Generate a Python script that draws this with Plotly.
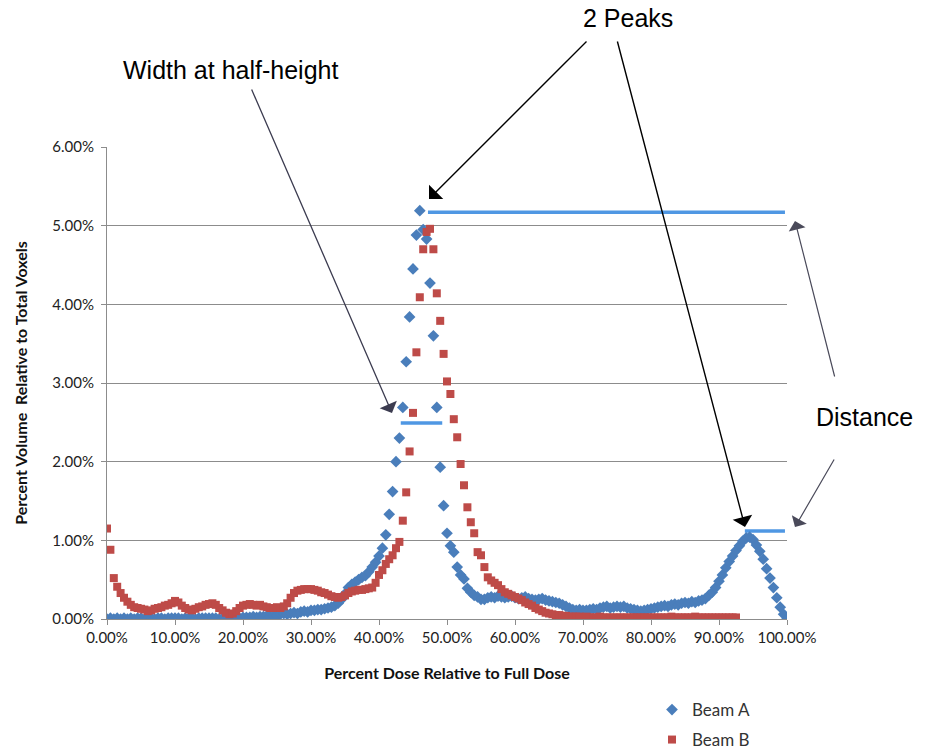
import plotly.graph_objects as go

# ---------------- data (percent units) ----------------
dose_a = [i * 0.5 for i in range(201)]          # 0 .. 100 % dose bins
beam_a = [
    0.00, 0.01, 0.00, 0.01, 0.00, 0.01, 0.00, 0.01, 0.00, 0.01, 0.01,
    0.00, 0.01, 0.01, 0.00, 0.01, 0.01, 0.00, 0.01, 0.01, 0.01,
    0.01, 0.00, 0.01, 0.01, 0.01, 0.00, 0.01, 0.01, 0.01, 0.01,
    0.01, 0.01, 0.00, 0.01, 0.01, 0.01, 0.02, 0.01, 0.01, 0.02,
    0.02, 0.02, 0.03, 0.02, 0.03, 0.03, 0.04, 0.03, 0.04, 0.04,
    0.06, 0.07, 0.06, 0.07, 0.08, 0.07, 0.09, 0.10, 0.09, 0.11,
    0.11, 0.12, 0.12, 0.13, 0.14, 0.15, 0.17, 0.20, 0.25, 0.32,
    0.40, 0.44, 0.47, 0.50, 0.53, 0.55, 0.60, 0.66, 0.72, 0.80,
    0.90, 1.07, 1.33, 1.62, 2.00, 2.30, 2.69, 3.27, 3.84, 4.45,
    4.88, 5.19, 4.95, 4.83, 4.27, 3.60, 2.69, 1.93, 1.44, 1.09,
    0.93, 0.85, 0.66, 0.56, 0.51, 0.39, 0.34, 0.30, 0.28, 0.25,
    0.25, 0.27, 0.28, 0.27, 0.29, 0.28, 0.27, 0.28, 0.29, 0.27,
    0.26, 0.27, 0.28, 0.26, 0.25, 0.24, 0.25, 0.26, 0.24, 0.23,
    0.22, 0.21, 0.20, 0.18, 0.16, 0.14, 0.12, 0.11, 0.12, 0.11,
    0.11, 0.12, 0.13, 0.12, 0.14, 0.15, 0.16, 0.14, 0.15, 0.16,
    0.15, 0.16, 0.14, 0.13, 0.12, 0.11, 0.10, 0.11, 0.12, 0.13,
    0.14, 0.15, 0.16, 0.17, 0.16, 0.18, 0.19, 0.18, 0.20, 0.21,
    0.20, 0.22, 0.21, 0.23, 0.24, 0.26, 0.30, 0.34, 0.40, 0.48,
    0.56, 0.65, 0.73, 0.80, 0.87, 0.93, 0.99, 1.03, 1.04, 1.01,
    0.94, 0.86, 0.76, 0.64, 0.52, 0.40, 0.27, 0.15, 0.06, 0.00,
]

beam_b = [
    1.15, 0.88, 0.52, 0.41, 0.33, 0.27, 0.22, 0.18, 0.15, 0.14, 0.13,
    0.12, 0.10, 0.11, 0.13, 0.14, 0.15, 0.17, 0.18, 0.20, 0.23,
    0.21, 0.17, 0.14, 0.12, 0.11, 0.13, 0.15, 0.16, 0.18, 0.19,
    0.20, 0.18, 0.14, 0.11, 0.08, 0.06, 0.07, 0.10, 0.14, 0.17,
    0.18, 0.19, 0.18, 0.17, 0.18, 0.16, 0.15, 0.14, 0.14, 0.15,
    0.14, 0.16, 0.20, 0.27, 0.33, 0.36, 0.37, 0.38, 0.38, 0.38,
    0.37, 0.36, 0.34, 0.33, 0.31, 0.29, 0.28, 0.27, 0.28, 0.30,
    0.33, 0.35, 0.36, 0.37, 0.37, 0.38, 0.39, 0.40, 0.46, 0.56,
    0.62, 0.70, 0.76, 0.81, 0.90, 0.98, 1.25, 1.61, 2.13, 2.62,
    3.39, 4.09, 4.70, 4.92, 4.96, 4.70, 4.14, 3.79, 3.37, 3.02,
    2.86, 2.54, 2.31, 1.97, 1.70, 1.42, 1.23, 1.09, 0.85, 0.81,
    0.66, 0.53, 0.49, 0.46, 0.43, 0.38, 0.34, 0.32, 0.30, 0.28,
    0.26, 0.24, 0.21, 0.19, 0.17, 0.14, 0.12, 0.10, 0.08, 0.07,
    0.06, 0.05, 0.05, 0.04, 0.04, 0.03, 0.03, 0.03, 0.03, 0.02,
    0.03, 0.02, 0.02, 0.02, 0.03, 0.02, 0.02, 0.02, 0.02, 0.02,
    0.02, 0.02, 0.02, 0.02, 0.02, 0.02, 0.02, 0.02, 0.02, 0.02,
    0.02, 0.02, 0.02, 0.02, 0.02, 0.03, 0.02, 0.02, 0.02, 0.02,
    0.02, 0.02, 0.03, 0.02, 0.02, 0.02, 0.02, 0.02, 0.02, 0.02,
    0.02, 0.02, 0.02, 0.02, 0.02,
]
dose_b = dose_a[:len(beam_b)]                    # 0 .. 92.5 % dose bins

# marker lines drawn on the chart (percent units)
peak_line_x = [47.2, 99.7]
peak_line_y = [5.17, 5.17]
half_line_x = [43.2, 49.3]
half_line_y = [2.49, 2.49]
peak2_line_x = [93.8, 99.7]
peak2_line_y = [1.12, 1.12]

x_ticks = [0, 10, 20, 30, 40, 50, 60, 70, 80, 90, 100]
y_ticks = [0, 1, 2, 3, 4, 5, 6]

# ---------------- layout geometry ----------------
W, H = 926, 749
L, R, T, B = 107, 139, 147, 130
PW, PH = W - L - R, H - T - B


def px(x):
    return (x - L) / PW


def py(y):
    return (H - B - y) / PH


BLUE = "#4A7EBB"
RED = "#BE4B48"
LINE_BLUE = "#4F97E3"
GRID = "#8C8C8C"

fig = go.Figure()

for lx, ly in [(peak_line_x, peak_line_y), (half_line_x, half_line_y),
               (peak2_line_x, peak2_line_y)]:
    fig.add_trace(go.Scatter(x=lx, y=ly, mode="lines",
                             line=dict(color=LINE_BLUE, width=3.5),
                             showlegend=False, hoverinfo="skip"))

fig.add_trace(go.Scatter(
    x=dose_a, y=beam_a, mode="markers", name="Beam A",
    marker=dict(symbol="diamond", size=9, color=BLUE, line=dict(width=0)),
    legend="legend"))
fig.add_trace(go.Scatter(
    x=dose_b, y=beam_b, mode="markers", name="Beam B",
    marker=dict(symbol="square", size=8, color=RED, line=dict(width=0)),
    legend="legend2"))

annotations = []
# text labels
for txt, x, y in [("2 Peaks", 628, 18), ("Width at half-height", 230, 70),
                  ("Distance", 864, 417)]:
    annotations.append(dict(
        text=txt, x=px(x), y=py(y), xref="paper", yref="paper",
        showarrow=False, xanchor="center", yanchor="middle",
        font=dict(family="Liberation Sans, Arial", size=25, color="#000000")))

# arrows: (tail_x, tail_y, tip_x, tip_y, color, width)
arrows = [
    (588, 40, 429, 199, "#000000", 1.4),
    (617, 40, 745, 527, "#000000", 1.4),
    (251, 88, 392, 413, "#3C3C50", 1.3),
    (835, 378, 795, 221, "#4A4A5A", 1.2),
    (835, 458, 795, 527, "#4A4A5A", 1.2),
]
for tx, ty, hx, hy, col, w in arrows:
    annotations.append(dict(
        text="", x=px(hx), y=py(hy), xref="paper", yref="paper",
        ax=tx - hx, ay=ty - hy, axref="pixel", ayref="pixel",
        showarrow=True, arrowhead=1, arrowsize=2.4, arrowwidth=w,
        arrowcolor=col))

fig.update_layout(
    width=W, height=H,
    margin=dict(l=L, r=R, t=T, b=B, autoexpand=False),
    paper_bgcolor="white", plot_bgcolor="white",
    font=dict(family="Lato, Open Sans, sans-serif", color="#222222"),
    annotations=annotations,
    legend=dict(x=px(652), y=py(710), xanchor="left", yanchor="middle",
                font=dict(size=17, color="#333333"), bgcolor="rgba(0,0,0,0)"),
    legend2=dict(x=px(652), y=py(740), xanchor="left", yanchor="middle",
                 font=dict(size=17, color="#333333"), bgcolor="rgba(0,0,0,0)"),
    xaxis=dict(
        range=[0, 100], tickvals=x_ticks,
        ticktext=[f"{v:.2f}%" for v in x_ticks],
        showgrid=False, zeroline=False,
        showline=True, linecolor=GRID, linewidth=1,
        ticks="outside", ticklen=5, tickcolor=GRID,
        tickfont=dict(size=15, color="#222222"),
        title=dict(text="<b>Percent Dose Relative to Full Dose</b>",
                   font=dict(size=16, color="#111111"), standoff=22),
    ),
    yaxis=dict(
        range=[0, 6], tickvals=y_ticks,
        ticktext=[f"{v:.2f}%" for v in y_ticks],
        showgrid=True, gridcolor=GRID, gridwidth=1, zeroline=False,
        showline=True, linecolor=GRID, linewidth=1,
        ticks="outside", ticklen=5, tickcolor=GRID, ticklabelstandoff=4,
        tickfont=dict(size=15, color="#222222"),
        title=dict(text="<b>Percent Volume\u00a0 Relative to Total Voxels</b>",
                   font=dict(size=16, color="#111111"), standoff=20),
    ),
)

fig.write_html("out.html")
